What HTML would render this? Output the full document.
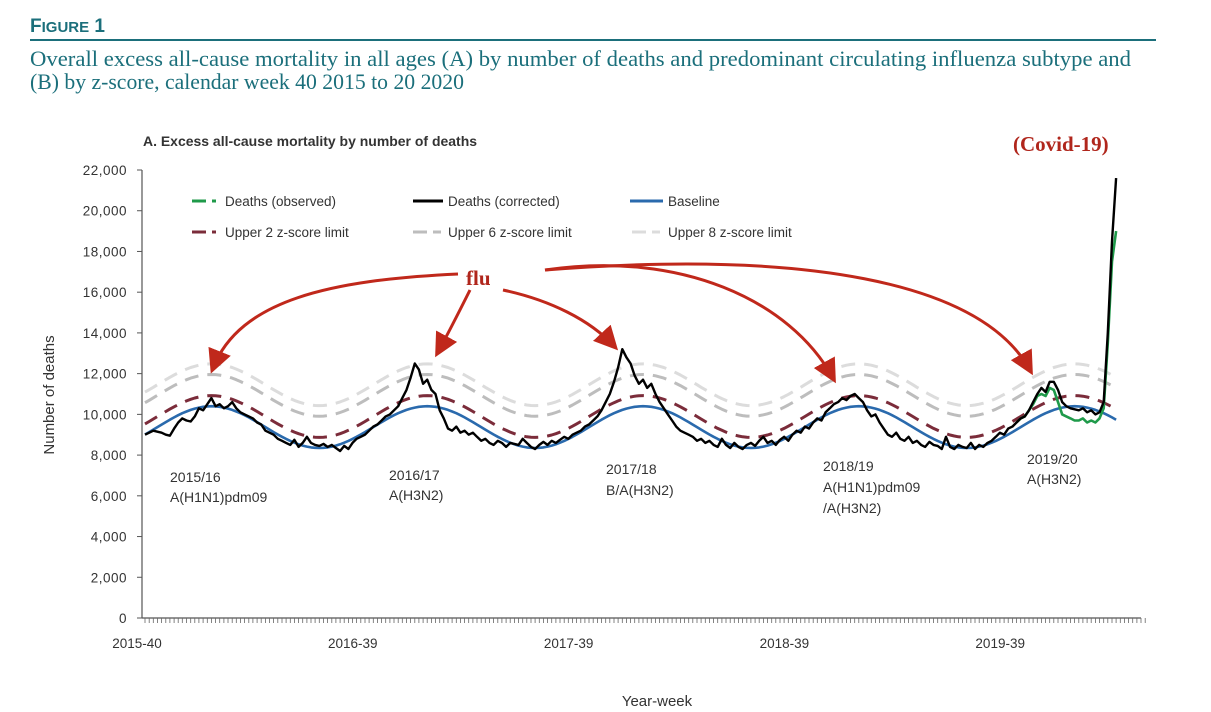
<!DOCTYPE html>
<html><head><meta charset="utf-8"><style>
body{margin:0;background:#fff;width:1211px;height:712px;overflow:hidden;font-family:"Liberation Sans",sans-serif}
svg{position:absolute;left:0;top:0}
</style></head><body>
<svg width="1211" height="712" viewBox="0 0 1211 712">
<defs><marker id="ah" markerWidth="8" markerHeight="8" refX="6" refY="4" orient="auto" markerUnits="strokeWidth"><path d="M0,0 L8,4 L0,8 z" fill="#c0281b"/></marker></defs>
<text x="30" y="32" fill="#1b6f7b" font-family="Liberation Sans" font-weight="bold" font-size="19">F<tspan font-size="15">IGURE</tspan> 1</text>
<line x1="30" y1="40" x2="1156" y2="40" stroke="#1b6f7b" stroke-width="2"/>
<text x="30" y="66" fill="#1b6f7b" font-family="Liberation Serif" font-size="22" textLength="1101" lengthAdjust="spacingAndGlyphs">Overall excess all-cause mortality in all ages (A) by number of deaths and predominant circulating influenza subtype and</text>
<text x="30" y="89" fill="#1b6f7b" font-family="Liberation Serif" font-size="22" textLength="434" lengthAdjust="spacingAndGlyphs">(B) by z-score, calendar week 40 2015 to 20 2020</text>
<text x="143" y="146" fill="#333" font-weight="bold" font-size="13.5" textLength="334" lengthAdjust="spacingAndGlyphs">A. Excess all-cause mortality by number of deaths</text>
<text x="1013" y="151" fill="#b0261c" font-family="Liberation Serif" font-weight="bold" font-size="21">(Covid-19)</text>
<text transform="translate(54,395) rotate(-90)" text-anchor="middle" fill="#333" font-size="15">Number of deaths</text>
<text x="657" y="706" text-anchor="middle" fill="#333" font-size="15">Year-week</text>
<g id="axes"></g>
<g id="series"></g>
<g id="legend" font-size="13.5" fill="#333">
<line x1="192" y1="201" x2="206" y2="201" stroke="#1f9a4a" stroke-width="3"/><line x1="212" y1="201" x2="216" y2="201" stroke="#1f9a4a" stroke-width="3"/>
<text x="225" y="206">Deaths (observed)</text>
<line x1="413" y1="201" x2="443" y2="201" stroke="#000" stroke-width="3"/>
<text x="448" y="206">Deaths (corrected)</text>
<line x1="630" y1="201" x2="663" y2="201" stroke="#2a6aad" stroke-width="3"/>
<text x="668" y="206">Baseline</text>
<line x1="192" y1="232" x2="206" y2="232" stroke="#7b2c3a" stroke-width="3"/><line x1="212" y1="232" x2="216" y2="232" stroke="#7b2c3a" stroke-width="3"/>
<text x="225" y="237">Upper 2 z-score limit</text>
<line x1="413" y1="232" x2="427" y2="232" stroke="#bdbdbd" stroke-width="3"/><line x1="433" y1="232" x2="441" y2="232" stroke="#bdbdbd" stroke-width="3"/>
<text x="448" y="237">Upper 6 z-score limit</text>
<line x1="632" y1="232" x2="646" y2="232" stroke="#dcdcdc" stroke-width="3"/><line x1="652" y1="232" x2="660" y2="232" stroke="#dcdcdc" stroke-width="3"/>
<text x="668" y="237">Upper 8 z-score limit</text>
</g>
<g font-size="14" fill="#333">
<text x="170" y="482">2015/16</text><text x="170" y="502">A(H1N1)pdm09</text>
<text x="389" y="480">2016/17</text><text x="389" y="500">A(H3N2)</text>
<text x="606" y="474">2017/18</text><text x="606" y="495">B/A(H3N2)</text>
<text x="823" y="471">2018/19</text><text x="823" y="492">A(H1N1)pdm09</text><text x="823" y="513">/A(H3N2)</text>
<text x="1027" y="464">2019/20</text><text x="1027" y="484">A(H3N2)</text>
</g>
<g fill="none" stroke="#c0281b" stroke-width="3">
<path d="M458,274 C330,280 240,300 213,368" marker-end="url(#ah)"/>
<path d="M470,290 C460,310 450,330 438,352" marker-end="url(#ah)"/>
<path d="M503,290 C550,300 590,320 614,346" marker-end="url(#ah)"/>
<path d="M545,270 C680,250 790,300 833,378" marker-end="url(#ah)"/>
<path d="M545,270 C800,250 980,280 1030,370" marker-end="url(#ah)"/>
</g>
<text x="466" y="285" fill="#b0261c" font-family="Liberation Serif" font-weight="bold" font-size="21">flu</text>
</svg>
<script>
const yTicks=[0,2000,4000,6000,8000,10000,12000,14000,16000,18000,20000,22000];
const xTickLabels=["2015-40","2016-39","2017-39","2018-39","2019-39"];
const xTickWeeks=[0,52,104,156,208];
const totalWeeks=242;
const zLimits=[2,6,8];
const sd=[260];
const corrected=[9000,9100,9200,9150,9100,9000,8950,9300,9600,9800,
9700,9650,9900,10300,10200,10500,10800,10400,10500,10300,
10400,10600,10300,10100,10000,9900,9800,9600,9500,9200,
9100,9000,8800,8700,8600,8500,8750,8400,8600,8900,
8600,8500,8450,8550,8400,8500,8350,8200,8450,8300,
8600,8800,8900,9000,9200,9400,9500,9700,9900,10000,
10200,10400,10800,11200,11800,12500,12200,11500,11700,11200,
11000,10200,9800,9300,9200,9400,9100,9200,9000,9100,
8900,8700,8800,8600,8500,8700,8600,8400,8600,8550,
8500,8800,8600,8400,8300,8500,8650,8500,8700,8600,
8750,8900,8800,9000,9100,9200,9400,9500,9700,9900,
10200,10600,11000,11600,12300,13200,12800,12500,11900,11500,
11700,11300,11500,11000,10600,10300,10000,9700,9400,9200,
9100,9000,8900,8700,8800,8600,8700,8500,8400,8800,
8500,8350,8600,8400,8300,8500,8600,8450,8700,8900,
8600,8700,8500,8750,8900,8700,9000,9200,9100,9400,
9300,9600,9800,9700,10100,10300,10500,10600,10800,10700,
10900,11000,10800,10600,10200,9900,10000,9600,9300,9000,
8900,9100,8800,8700,8900,8600,8700,8500,8400,8650,
8500,8450,8300,8900,8400,8300,8500,8400,8350,8600,
8300,8500,8400,8600,8700,8900,9100,9000,9300,9400,
9600,9800,9900,10200,10600,11000,11300,11100,11600,11600,
11200,10600,10400,10300,10250,10200,10300,10100,10200,10000,
10100,10600,14000,18500,21600];
const observedStart=210;
const observed=[9600,9800,9900,10200,10500,10900,11000,10900,11300,11200,
10600,10000,9900,9800,9700,9700,9800,9600,9700,9600,
9800,10300,13500,17500,19000];
const baseline=[9011,9130,9251,9375,9499,9620,9739,9852,9957,10055,10143,10219,10282,10333,10370,10393,10400,10393,10370,10333,10282,10219,10143,10055,9957,9852,9739,9620,9499,9375,9251,9130,9011,8898,8793,8695,8607,8531,8468,8417,8380,8357,8350,8357,8380,8417,8468,8531,8607,8695,8793,8898,
9011,9130,9251,9375,9499,9620,9739,9852,9957,10055,10143,10219,10282,10333,10370,10393,10400,10393,10370,10333,10282,10219,10143,10055,9957,9852,9739,9620,9499,9375,9251,9130,9011,8898,8793,8695,8607,8531,8468,8417,8380,8357,8350,8357,8380,8417,8468,8531,8607,8695,8793,8898,
9011,9130,9251,9375,9499,9620,9739,9852,9957,10055,10143,10219,10282,10333,10370,10393,10400,10393,10370,10333,10282,10219,10143,10055,9957,9852,9739,9620,9499,9375,9251,9130,9011,8898,8793,8695,8607,8531,8468,8417,8380,8357,8350,8357,8380,8417,8468,8531,8607,8695,8793,8898,
9011,9130,9251,9375,9499,9620,9739,9852,9957,10055,10143,10219,10282,10333,10370,10393,10400,10393,10370,10333,10282,10219,10143,10055,9957,9852,9739,9620,9499,9375,9251,9130,9011,8898,8793,8695,8607,8531,8468,8417,8380,8357,8350,8357,8380,8417,8468,8531,8607,8695,8793,8898,
9011,9130,9251,9375,9499,9620,9739,9852,9957,10055,10143,10219,10282,10333,10370,10393,10400,10393,10370,10333,10282,10219,10143,10055,9957,9852,9739];

const NS="http://www.w3.org/2000/svg";
const X0=145,WK=4.15,Y0=618,YMAX=22000,YH=448;
function xs(w){return X0+w*WK;}
function ys(v){return Y0-v*YH/YMAX;}
function mk(tag,attrs,parent){const e=document.createElementNS(NS,tag);for(const k in attrs)e.setAttribute(k,attrs[k]);parent.appendChild(e);return e;}
const axes=document.getElementById('axes');
const series=document.getElementById('series');
let a=mk('line',{x1:142,y1:ys(YMAX),x2:142,y2:Y0,stroke:'#555','stroke-width':1.2},axes);


a=mk('line',{x1:142,y1:Y0,x2:1141,y2:Y0,stroke:'#555','stroke-width':1.2},axes);


yTicks.forEach(v=>{
  mk('line',{x1:137,y1:ys(v),x2:142,y2:ys(v),stroke:'#555'},axes);
  const t=mk('text',{x:127,y:ys(v)+5,'text-anchor':'end','font-size':13.5,fill:'#333','letter-spacing':'0.5'},axes);
  t.textContent=v.toLocaleString('en-US');
  
  
});
let tk='';
for(let w=0;w<totalWeeks;w++){tk+='M'+xs(w).toFixed(1)+','+Y0+'v5';}
mk('path',{d:tk,stroke:'#666','stroke-width':0.8,fill:'none'},axes);
xTickLabels.forEach((l,i)=>{
  const t=mk('text',{x:xs(xTickWeeks[i])-8,y:648,'text-anchor':'middle','font-size':13.5,fill:'#333'},axes);
  t.textContent=l;
  
  
});
function line(vals,start,attrs,name){
  const d=vals.map((v,i)=>(i?'L':'M')+xs(start+i).toFixed(1)+','+ys(v).toFixed(1)).join('');
  const p=mk('path',Object.assign({d:d,fill:'none','stroke-linejoin':'round'},attrs),series);
  
  
}
const limStyles=[{stroke:'#7b2c3a','stroke-width':3,'stroke-dasharray':'14 9'},{stroke:'#bdbdbd','stroke-width':3,'stroke-dasharray':'14 9'},{stroke:'#dcdcdc','stroke-width':3,'stroke-dasharray':'14 9'}];
[2,1,0].forEach(i=>{line(baseline.map(v=>v+zLimits[i]*sd[0]),0,limStyles[i],'upper-'+zLimits[i]+'-z-limit');});
line(baseline,0,{stroke:'#2a6aad','stroke-width':2.6},'baseline-line');
line(observed,observedStart,{stroke:'#1f9a4a','stroke-width':2.6},'observed-deaths-line');
line(corrected,0,{stroke:'#000','stroke-width':2.4},'corrected-deaths-line');
</script>
</body></html>
